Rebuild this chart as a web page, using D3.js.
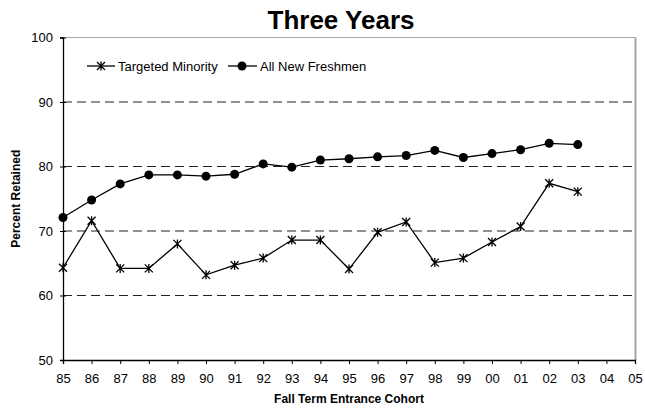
<!DOCTYPE html>
<html>
<head>
<meta charset="utf-8">
<script src="https://cdn.jsdelivr.net/npm/d3@7"></script>
<style>
  body { margin: 0; background: #fff; }
  svg { font-family: Arial, "Liberation Sans", sans-serif; }
  .axis path, .axis line { stroke: #000; }
  .axis text { fill: #000; }
</style>
</head>
<body>
<script>
// cohort labels (fall term entrance year)
var cohorts = ["85", "86", "87", "88", "89", "90", "91", "92", "93", "94",
  "95", "96", "97", "98", "99", "00", "01", "02", "03", "04", "05"];

var targetedMinority = [64.3, 71.6, 64.2, 64.2, 68.0, 63.2, 64.7, 65.8, 68.6, 68.6,
  64.1, 69.8, 71.4, 65.1, 65.8, 68.3, 70.7, 77.4, 76.1];

var allNewFreshmen = [72.1, 74.8, 77.3, 78.7, 78.7, 78.5, 78.8, 80.4, 79.9, 81.0,
  81.2, 81.5, 81.7, 82.5, 81.4, 82.0, 82.6, 83.6, 83.4];

var yTicks = [50, 60, 70, 80, 90, 100];
var gridTicks = [60, 70, 80, 90];

var width = 645, height = 409;
var margin = { top: 37.5, right: 10, bottom: 49, left: 63 };

var svg = d3.select("body").append("svg")
  .attr("width", width)
  .attr("height", height);

var x = d3.scalePoint()
  .domain(cohorts)
  .range([margin.left, width - margin.right]);

var y = d3.scaleLinear()
  .domain([50, 100])
  .range([height - margin.bottom, margin.top]);

// title
svg.append("text")
  .attr("x", 341)
  .attr("y", 28.5)
  .attr("text-anchor", "middle")
  .style("font-size", "26px")
  .style("font-weight", "bold")
  .text("Three Years");

// gray frame top and right
svg.append("line")
  .attr("x1", margin.left).attr("x2", x("05"))
  .attr("y1", y(100)).attr("y2", y(100))
  .attr("stroke", "#a6a6a6").attr("stroke-width", 1.2);
svg.append("line")
  .attr("x1", x("05") + 0.5).attr("x2", x("05") + 0.5)
  .attr("y1", y(100)).attr("y2", y(50))
  .attr("stroke", "#a6a6a6").attr("stroke-width", 2);

// dashed gridlines
svg.append("g")
  .selectAll("line")
  .data(gridTicks)
  .join("line")
  .attr("x1", margin.left)
  .attr("x2", x("05"))
  .attr("y1", function (d) { return y(d); })
  .attr("y2", function (d) { return y(d); })
  .attr("stroke", "#222")
  .attr("stroke-width", 1)
  .attr("stroke-dasharray", "9,5");

// axes
var yAxis = d3.axisLeft(y)
  .tickValues(yTicks)
  .tickSize(3)
  .tickPadding(7);

var gy = svg.append("g")
  .attr("class", "axis")
  .attr("transform", "translate(" + margin.left + ",0)")
  .call(yAxis);
gy.select(".domain").attr("stroke-width", 1.3);
gy.selectAll(".tick line").attr("x1", 3).attr("x2", -3);
gy.selectAll(".tick text").style("font-size", "13px").style("font-family", "Arial, 'Liberation Sans', sans-serif");

var xAxis = d3.axisBottom(x)
  .tickSize(4)
  .tickPadding(9.5)
  .tickSizeOuter(4);

var gx = svg.append("g")
  .attr("class", "axis")
  .attr("transform", "translate(0," + y(50) + ")")
  .call(xAxis);
gx.select(".domain").attr("stroke-width", 1.3);
gx.selectAll(".tick text").style("font-size", "13px").style("font-family", "Arial, 'Liberation Sans', sans-serif");

// axis titles
svg.append("text")
  .attr("transform", "translate(20," + ((y(50) + y(100)) / 2) + ") rotate(-90)")
  .attr("text-anchor", "middle")
  .style("font-size", "12px")
  .style("font-weight", "bold")
  .text("Percent Retained");

svg.append("text")
  .attr("x", (x("85") + x("05")) / 2)
  .attr("y", 403)
  .attr("text-anchor", "middle")
  .style("font-size", "12px")
  .style("font-weight", "bold")
  .text("Fall Term Entrance Cohort");

// lines
var line = d3.line()
  .x(function (d, i) { return x(cohorts[i]); })
  .y(function (d) { return y(d); });

svg.append("path")
  .datum(allNewFreshmen)
  .attr("fill", "none")
  .attr("stroke", "#000")
  .attr("stroke-width", 1.3)
  .attr("d", line);

svg.append("path")
  .datum(targetedMinority)
  .attr("fill", "none")
  .attr("stroke", "#000")
  .attr("stroke-width", 1.3)
  .attr("d", line);

// markers
svg.append("g")
  .selectAll("circle")
  .data(allNewFreshmen)
  .join("circle")
  .attr("cx", function (d, i) { return x(cohorts[i]); })
  .attr("cy", function (d) { return y(d); })
  .attr("r", 4.5)
  .attr("fill", "#000");

function star(g, s) {
  g.append("path")
    .attr("d", "M" + (-s) + "," + (-s) + "L" + s + "," + s +
      "M" + (-s) + "," + s + "L" + s + "," + (-s) +
      "M0," + (-s - 0.5) + "L0," + (s + 0.5))
    .attr("stroke", "#000")
    .attr("stroke-width", 1.3)
    .attr("fill", "none");
}

svg.append("g")
  .selectAll("g")
  .data(targetedMinority)
  .join("g")
  .attr("transform", function (d, i) { return "translate(" + x(cohorts[i]) + "," + y(d) + ")"; })
  .each(function () { star(d3.select(this), 4); });

// legend
var legend = svg.append("g").attr("transform", "translate(0,66)");
legend.append("line").attr("x1", 87).attr("x2", 115).attr("stroke", "#000").attr("stroke-width", 1.3);
star(legend.append("g").attr("transform", "translate(101,0)"), 4);
legend.append("text").attr("x", 118).attr("y", 4.5)
  .style("font-size", "13px").text("Targeted Minority");

legend.append("line").attr("x1", 228).attr("x2", 257).attr("stroke", "#000").attr("stroke-width", 1.3);
legend.append("circle").attr("cx", 242).attr("cy", 0).attr("r", 4.5).attr("fill", "#000");
legend.append("text").attr("x", 260).attr("y", 4.5)
  .style("font-size", "13px").text("All New Freshmen");
</script>
</body>
</html>
